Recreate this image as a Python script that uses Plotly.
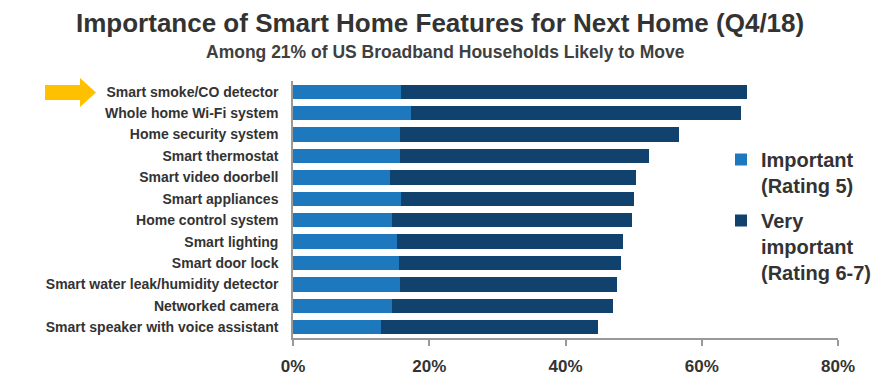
import plotly.graph_objects as go

categories = [
    "Smart smoke/CO detector",
    "Whole home Wi-Fi system",
    "Home security system",
    "Smart thermostat",
    "Smart video doorbell",
    "Smart appliances",
    "Home control system",
    "Smart lighting",
    "Smart door lock",
    "Smart water leak/humidity detector",
    "Networked camera",
    "Smart speaker with voice assistant",
]
important = [15.8, 17.3, 15.7, 15.7, 14.2, 15.9, 14.6, 15.2, 15.5, 15.7, 14.6, 12.9]
total = [66.7, 65.8, 56.6, 52.2, 50.3, 50.1, 49.8, 48.4, 48.2, 47.6, 46.9, 44.7]
very_important = [round(t - i, 1) for t, i in zip(total, important)]
x_ticks = [0, 20, 40, 60, 80]
x_tick_labels = ["0%", "20%", "40%", "60%", "80%"]

FONT = "Liberation Sans, Arial, sans-serif"
LIGHT = "#1E78BE"
DARK = "#11426E"

fig = go.Figure()
fig.add_trace(go.Bar(y=categories, x=important, orientation="h", name="<b>Important<br>(Rating 5)</b>",
                     legendgroup="a", marker=dict(color=LIGHT, line=dict(width=0))))
fig.add_trace(go.Bar(y=categories, x=very_important, orientation="h", name="<b>Very<br>important<br>(Rating 6-7)</b>",
                     legendgroup="b", marker=dict(color=DARK, line=dict(width=0))))

W, H = 880, 376
L, R, T, B = 293, 42, 81, 38
pw, ph = W - L - R, H - T - B

def px(x):
    return (x - L) / pw

def py(y):
    return (H - B - y) / ph

arrow = [(45, 85), (80, 85), (80, 78), (96, 92.5), (80, 107), (80, 100), (45, 100)]
path = "M " + " L ".join(f"{px(a):.4f},{py(b):.4f}" for a, b in arrow) + " Z"

fig.update_layout(
    width=W, height=H,
    margin=dict(l=L, r=R, t=T, b=B, autoexpand=False),
    barmode="stack",
    bargap=0.33,
    plot_bgcolor="white", paper_bgcolor="white",
    font=dict(family=FONT, color="#333333"),
    showlegend=True,
    legend=dict(x=px(721), y=py(140), xanchor="left", yanchor="top",
                font=dict(size=20, color="#333333", family=FONT),
                traceorder="grouped", valign="top", itemwidth=30,
                bgcolor="rgba(0,0,0,0)", tracegroupgap=6),
    xaxis=dict(range=[0, 80], tickvals=x_ticks, ticktext=[f"<b>{t}</b>" for t in x_tick_labels],
               showgrid=False, zeroline=False, showline=True, linecolor="#999999", linewidth=1.5,
               ticks="outside", ticklen=6, tickcolor="#999999", tickwidth=1.5, automargin=False,
               ticklabelstandoff=6,
               tickfont=dict(size=17, color="#333333", family=FONT)),
    yaxis=dict(autorange="reversed", showgrid=False, zeroline=False, showline=True, automargin=False,
               linecolor="#999999", linewidth=1.5, ticks="", ticklabelstandoff=10,
               tickvals=categories, ticktext=[f"<b>{c}</b>" for c in categories],
               tickfont=dict(size=14, color="#333333", family=FONT)),
    shapes=[dict(type="path", xref="paper", yref="paper", path=path,
                 fillcolor="#FFC000", line=dict(width=0))],
    annotations=[
        dict(text="<b>Importance of Smart Home Features for Next Home (Q4/18)</b>", x=px(440), y=py(23),
             xref="paper", yref="paper", showarrow=False, xanchor="center", yanchor="middle",
             font=dict(size=26, color="#333333", family=FONT)),
        dict(text="<b>Among 21% of US Broadband Households Likely to Move</b>", x=px(445), y=py(52),
             xref="paper", yref="paper", showarrow=False, xanchor="center", yanchor="middle",
             font=dict(size=17.5, color="#404040", family=FONT)),
    ],
)

fig.write_html("out.html", config={"displayModeBar": False},
               post_script="document.body.style.margin='0';")
